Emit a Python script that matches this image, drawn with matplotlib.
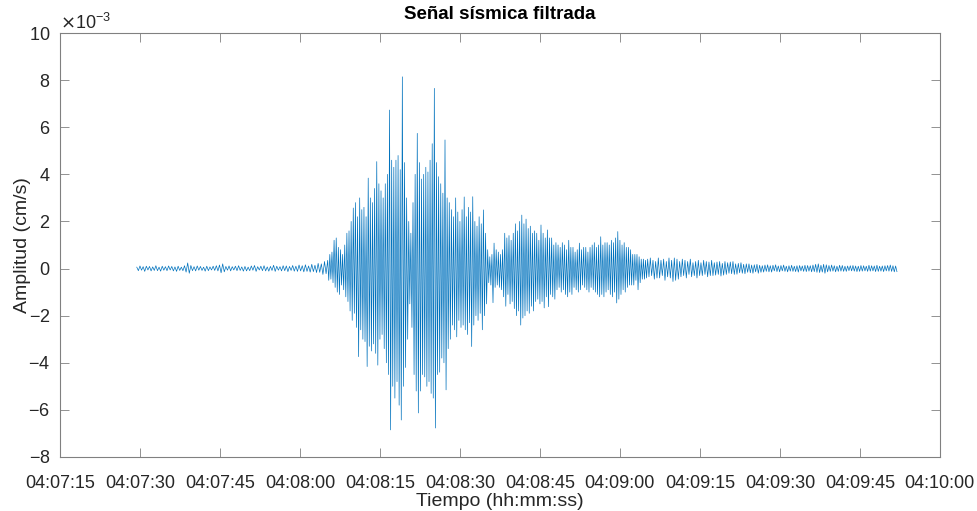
import numpy as np
import matplotlib
matplotlib.use("Agg")
import matplotlib.pyplot as plt
from matplotlib.ticker import FuncFormatter, MultipleLocator

plt.rcParams["font.family"] = ["Liberation Sans", "DejaVu Sans"]

# Segment boundaries (hh:mm:ss) of the filtered record
segment_bounds = ["04:07:29.4", "04:08:05.2", "04:08:37.2", "04:09:05.2", "04:09:52.2"]

# Successive extremes of the velocity trace, in units of 1e-3 cm/s
pre_event = [
    0.06, -0.09, 0.11, -0.07, 0.08, -0.12, 0.10, -0.06, 0.09, -0.10,
    0.07, -0.08, 0.12, -0.09, 0.06, -0.11, 0.10, -0.07, 0.08, -0.09,
    0.11, -0.06, 0.09, -0.10, 0.07, -0.12, 0.10, -0.08, 0.06, -0.09,
    0.12, -0.15, 0.24, -0.20, 0.13, -0.09, 0.08, -0.10, 0.11, -0.07,
    0.09, -0.08, 0.06, -0.11, 0.10, -0.09, 0.07, -0.06, 0.10, -0.08,
    0.12, -0.10, 0.15, -0.18, 0.20, -0.14, 0.09, -0.07, 0.11, -0.10,
    0.08, -0.06, 0.10, -0.09, 0.12, -0.08, 0.07, -0.11, 0.09, -0.10,
    0.06, -0.09, 0.11, -0.07, 0.13, -0.12, 0.08, -0.06, 0.10, -0.09,
    0.12, -0.10, 0.07, -0.11, 0.09, -0.08, 0.14, -0.12, 0.10, -0.07,
    0.08, -0.10, 0.12, -0.09, 0.11, -0.13, 0.09, -0.08, 0.13, -0.11,
    0.10, -0.12, 0.15, -0.10, 0.12, -0.14, 0.16, -0.12, 0.11, -0.15,
    0.18, -0.13, 0.14, -0.17, 0.22, -0.16, 0.20, -0.25, 0.30, -0.22,
]

strong_motion = [
    0.35, -0.5, 0.6, -0.45, 0.7,
    -0.6, 1.2, -0.8, 1.3, -1.0,
    0.9, -1.1, 0.8, -0.7, 0.6,
    -0.9, 1.0, -1.2, 1.5, -1.4,
    1.6, -1.8, 2.0, -2.2, 2.57,
    -1.9, 2.8, -2.5, 2.2, -3.74,
    3.0, -2.6, 2.5, -3.0, 2.6,
    -3.1, 2.2, -4.16, 3.84, -3.3,
    3.0, -3.5, 2.8, -3.2, 3.4,
    -3.6, 4.54, -4.1, 3.6, -3.0,
    3.3, -2.8, 3.0, -3.4, 3.6,
    -4.0, 4.0, -4.5, 6.73, -6.85,
    4.6, -5.0, 4.3, -5.5, 4.6,
    -4.8, 4.8, -5.8, 4.2, -6.43,
    8.14, -5.0, 4.5, -4.2, 3.0,
    -3.0, 2.0, -1.5, 1.5, -2.5,
    2.8, -4.5, 4.0, -5.2, 5.74,
    -6.13, 4.5, -5.2, 3.8, -4.5,
    4.0, -4.6, 4.3, -5.0, 4.1,
    -4.8, 4.6, -5.3, 5.3, -5.5,
    7.65, -6.77, 4.5, -4.5, 3.9,
    -4.4, 3.6, -3.8, 3.2, -4.0,
    5.46, -5.15, 3.0, -3.4, 2.8,
    -3.0, 2.5, -2.4, 2.2, -2.6,
    3.0, -2.9, 2.4, -2.2, 2.0,
    -2.5, 2.5, -2.4, 3.04, -2.6,
    2.2, -2.8, 2.6, -2.3, 2.4,
    -3.31, 3.05, -2.4, 2.0, -2.0,
    1.8, -2.2, 2.2, -1.9, 1.9,
    -2.6, 2.49, -2.0, 1.5, -1.5,
    0.8, -0.6, 0.5, -0.7, 0.6,
    -1.45, 1.08, -0.8, 0.8, -0.7,
]

surface_waves = [
    0.7, -0.8, 0.6, -0.9, 0.8,
    -1.2, 1.5, -1.6, 1.3, -1.1,
    1.4, -1.5, 1.2, -1.4, 1.5,
    -1.7, 1.9, -2.0, 1.6, -1.8,
    2.0, -2.4, 2.27, -2.1, 1.9,
    -2.0, 2.1, -1.8, 1.7, -1.9,
    1.8, -1.6, 1.5, -1.8, 1.6,
    -1.4, 1.5, -1.3, 1.2, -1.5,
    1.85, -1.4, 1.5, -1.67, 1.3,
    -1.2, 1.64, -1.62, 1.3, -1.1,
    1.3, -1.2, 1.0, -1.3, 1.1,
    -0.9, 1.0, -0.8, 0.9, -1.0,
    1.1, -0.9, 1.0, -1.1, 0.8,
    -1.2, 1.2, -1.0, 0.9, -1.1,
    0.9, -0.8, 0.7, -0.9, 0.8,
    -1.0, 1.08, -0.9, 0.8, -0.7,
    0.9, -0.8, 0.9, -0.9, 0.7,
    -1.0, 0.9, -0.8, 1.0, -0.9,
    1.1, -1.0, 0.9, -1.1, 1.0,
    -1.2, 1.35, -1.1, 1.0, -1.2,
    1.1, -1.0, 1.1, -0.9, 1.0,
    -1.1, 1.2, -1.2, 1.1, -1.0,
    1.3, -1.46, 1.57, -1.3, 1.2,
    -1.1, 1.0, -0.9, 1.1, -1.0,
    0.9, -0.8, 0.9, -0.7, 0.8,
    -0.7, 0.6, -0.7, 0.6, -0.5,
    0.6, -0.9, 0.5, -0.6, 0.4,
    -0.45, 0.4, -0.45, 0.35, -0.4,
]

coda = [
    0.40, -0.35, 0.45, -0.30, 0.35, -0.45, 0.30, -0.40,
    0.45, -0.40, 0.35, -0.30, 0.40, -0.50, 0.30, -0.35,
    0.45, -0.40, 0.35, -0.55, 0.45, -0.50, 0.40, -0.45,
    0.30, -0.35, 0.40, -0.30, 0.35, -0.40, 0.30, -0.25,
    0.40, -0.35, 0.25, -0.30, 0.30, -0.40, 0.35, -0.30,
    0.25, -0.30, 0.35, -0.25, 0.30, -0.35, 0.28, -0.30,
    0.35, -0.30, 0.25, -0.28, 0.28, -0.25, 0.30, -0.32,
    0.22, -0.28, 0.30, -0.25, 0.25, -0.20, 0.28, -0.22,
    0.30, -0.25, 0.20, -0.24, 0.22, -0.18, 0.25, -0.20,
    0.18, -0.22, 0.20, -0.16, 0.20, -0.18, 0.15, -0.20,
    0.16, -0.14, 0.18, -0.20, 0.14, -0.16, 0.12, -0.15,
    0.15, -0.12, 0.16, -0.14, 0.12, -0.15, 0.14, -0.10,
    0.16, -0.13, 0.11, -0.14, 0.13, -0.10, 0.15, -0.12,
    0.10, -0.14, 0.12, -0.11, 0.14, -0.12, 0.10, -0.13,
    0.12, -0.15, 0.13, -0.10, 0.11, -0.12, 0.14, -0.13,
    0.13, -0.11, 0.12, -0.14, 0.15, -0.13, 0.18, -0.16,
    0.20, -0.17, 0.14, -0.15, 0.18, -0.20, 0.16, -0.14,
    0.13, -0.12, 0.15, -0.11, 0.12, -0.14, 0.10, -0.12,
    0.14, -0.11, 0.13, -0.12, 0.10, -0.12, 0.11, -0.09,
    0.12, -0.10, 0.13, -0.11, 0.11, -0.13, 0.10, -0.12,
    0.13, -0.11, 0.12, -0.10, 0.10, -0.12, 0.14, -0.11,
    0.12, -0.10, 0.11, -0.13, 0.14, -0.12, 0.10, -0.11,
    0.11, -0.13, 0.12, -0.10, 0.13, -0.11, 0.15, -0.12,
    0.12, -0.14, 0.11, -0.13,
]

x_start, x_end = "04:07:15", "04:10:00"
y_ticks_milli = [-8, -6, -4, -2, 0, 2, 4, 6, 8, 10]


def to_seconds(stamp):
    h, m, s = stamp.split(":")
    return int(h) * 3600 + int(m) * 60 + float(s)


def fmt_hms(value, _pos=None):
    total = int(round(value))
    return f"{total // 3600:02d}:{(total % 3600) // 60:02d}:{total % 60:02d}"


segments = [pre_event, strong_motion, surface_waves, coda]
t_parts, v_parts = [], []
for k, vals in enumerate(segments):
    a, b = to_seconds(segment_bounds[k]), to_seconds(segment_bounds[k + 1])
    t_parts.append(np.linspace(a, b, len(vals), endpoint=False))
    v_parts.append(np.asarray(vals) * 1e-3)
t = np.concatenate(t_parts)
v = np.concatenate(v_parts)

fig = plt.figure(figsize=(9.77, 5.11), dpi=100)
ax = fig.add_axes([0.0614, 0.1057, 0.9006, 0.8297])

ax.plot(t, v, color="#0072BD", lw=0.5)

ax.set_xlim(to_seconds(x_start), to_seconds(x_end))
ax.xaxis.set_major_locator(MultipleLocator(15))
ax.xaxis.set_major_formatter(FuncFormatter(fmt_hms))

ax.set_ylim(y_ticks_milli[0] * 1e-3, y_ticks_milli[-1] * 1e-3)
ax.set_yticks(np.array(y_ticks_milli) * 1e-3)
ax.ticklabel_format(axis="y", style="sci", scilimits=(-3, -3), useMathText=True)

axis_grey = "#808080"
text_dark = "#262626"
for sp in ax.spines.values():
    sp.set_color(axis_grey)
    sp.set_linewidth(0.8)
ax.tick_params(direction="in", top=True, right=True, length=6.3, width=0.6,
               color=axis_grey, labelcolor=text_dark, labelsize=13)
ax.tick_params(axis="y", pad=7)
ax.tick_params(axis="x", pad=13)
ax.yaxis.get_offset_text().set_fontsize(13)
ax.yaxis.get_offset_text().set_color(text_dark)

ax.set_title("Señal sísmica filtrada", fontsize=13.5, fontweight="bold", color="black", pad=10)
ax.set_xlabel("Tiempo (hh:mm:ss)", fontsize=14, color=text_dark, labelpad=1)
ax.set_ylabel("Amplitud (cm/s)", fontsize=14, color=text_dark, labelpad=-2)

fig.savefig("out.png", dpi=100)
